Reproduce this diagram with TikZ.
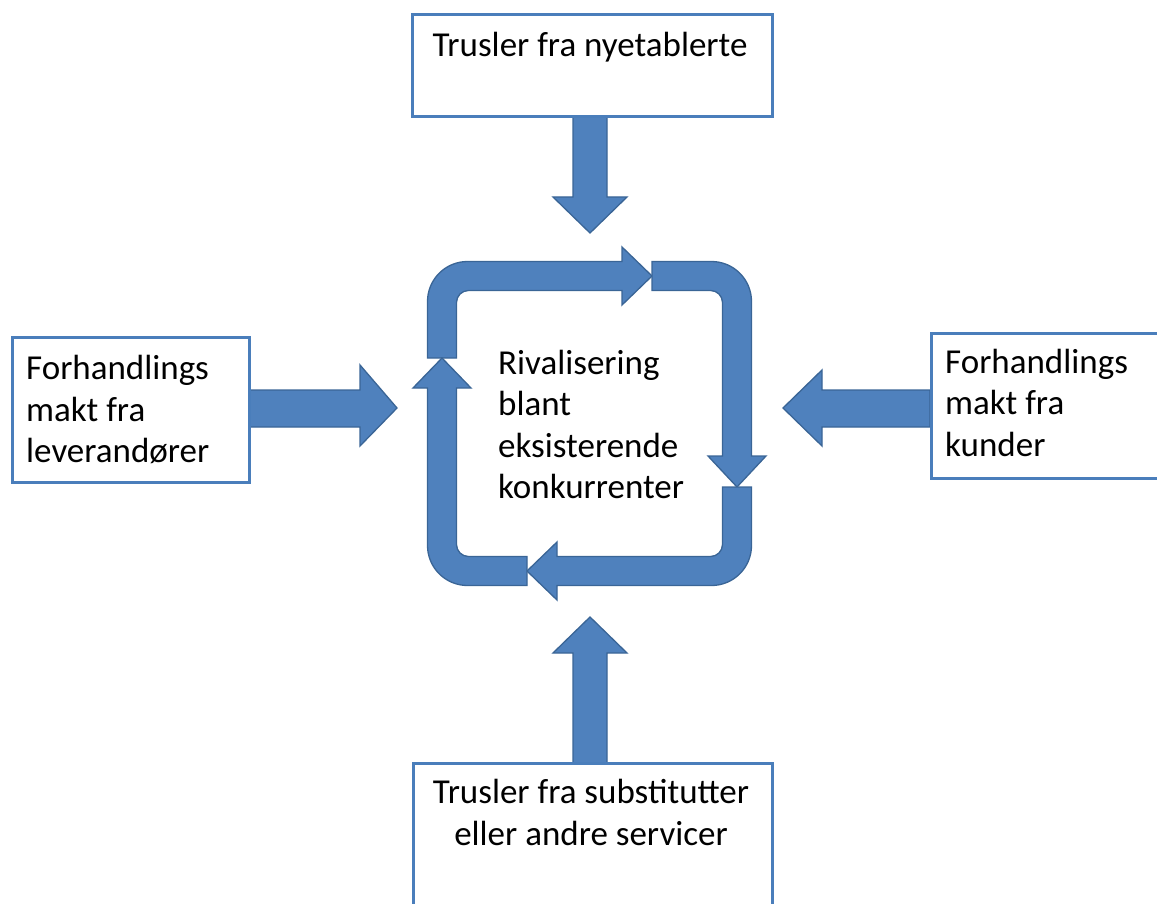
\documentclass[tikz,border=0pt]{standalone}
\usepackage{fontspec}
\setmainfont{Carlito}
\begin{document}
\begin{tikzpicture}[x=1pt,y=-1pt,
  boxline/.style={draw=boxblue,line width=3pt,fill=white},
  blockarrow/.style={fill=arrowblue,draw=arrowedge,line width=1.3pt,line join=miter},
  lbl/.style={inner sep=0pt,font=\fontsize{35}{41.5}\selectfont,text=black}]
\definecolor{boxblue}{HTML}{4A7EBB}
\definecolor{arrowblue}{HTML}{4F81BD}
\definecolor{arrowedge}{HTML}{3A6596}
\useasboundingbox (0,0) rectangle (1157,904);
\clip (0,0) rectangle (1157,904);

% straight block arrows pointing at the centre
\draw[blockarrow] (573,117) -- (573,197) -- (553,197) -- (590,233) -- (627,197) -- (607,197) -- (607,117) -- cycle;
\draw[blockarrow] (249,390) -- (360,390) -- (360,365) -- (397,408) -- (360,446) -- (360,427) -- (249,427) -- cycle;
\draw[blockarrow] (930,390) -- (822,390) -- (822,370) -- (783,408) -- (822,446) -- (822,427) -- (930,427) -- cycle;
\draw[blockarrow] (573,763) -- (573,653) -- (553,653) -- (590,617) -- (627,653) -- (607,653) -- (607,763) -- cycle;

% the four bent arrows forming the rivalry cycle
\draw[blockarrow] (427.5,358) -- (427.5,301.5)
  .. controls (427.5,279.41) and (445.41,261.5) .. (467.5,261.5)
  -- (622,261.5) -- (622,247) -- (652,276) -- (622,305) -- (622,290.5) -- (468.5,290.5)
  .. controls (461.87,290.5) and (456.5,295.87) .. (456.5,302.5)
  -- (456.5,358) -- cycle;
\draw[blockarrow] (652,261.5) -- (711.5,261.5)
  .. controls (733.59,261.5) and (751.5,279.41) .. (751.5,301.5)
  -- (751.5,456) -- (766,456) -- (737,487) -- (708,456) -- (722.5,456) -- (722.5,302.5)
  .. controls (722.5,295.87) and (717.13,290.5) .. (710.5,290.5)
  -- (652,290.5) -- cycle;
\draw[blockarrow] (751.5,487) -- (751.5,545.5)
  .. controls (751.5,567.59) and (733.59,585.5) .. (711.5,585.5)
  -- (557,585.5) -- (557,600) -- (527,571) -- (557,542) -- (557,556.5) -- (710.5,556.5)
  .. controls (717.13,556.5) and (722.5,551.13) .. (722.5,544.5)
  -- (722.5,487) -- cycle;
\draw[blockarrow] (527,585.5) -- (467.5,585.5)
  .. controls (445.41,585.5) and (427.5,567.59) .. (427.5,545.5)
  -- (427.5,388) -- (413,388) -- (442,358) -- (471,388) -- (456.5,388) -- (456.5,544.5)
  .. controls (456.5,551.13) and (461.87,556.5) .. (468.5,556.5)
  -- (527,556.5) -- cycle;

% boxes of the four forces
\draw[boxline] (412,15) rectangle (772,117);
\draw[boxline] (12,337) rectangle (249,482);
\draw[boxline] (931,333) rectangle (1170,478);
\draw[boxline] (413,763) rectangle (772,920);

% labels
\node[lbl,anchor=base] (newentrants) at (590,57) {Trusler fra nyetablerte};
\node[lbl,anchor=north west,align=left] (suppliers) at (26,355) {Forhandlings\\makt fra\\leverandører};
\node[lbl,anchor=north west,align=left] (buyers) at (945,348.5) {Forhandlings\\makt fra\\kunder};
\node[lbl,anchor=north west,align=left] (rivalry) at (498,349.5) {Rivalisering\\blant\\eksisterende\\konkurrenter};
\node[lbl,anchor=north,align=center] (substitutes) at (591,779) {Trusler fra substitutter\\eller andre servicer};
\end{tikzpicture}
\end{document}
